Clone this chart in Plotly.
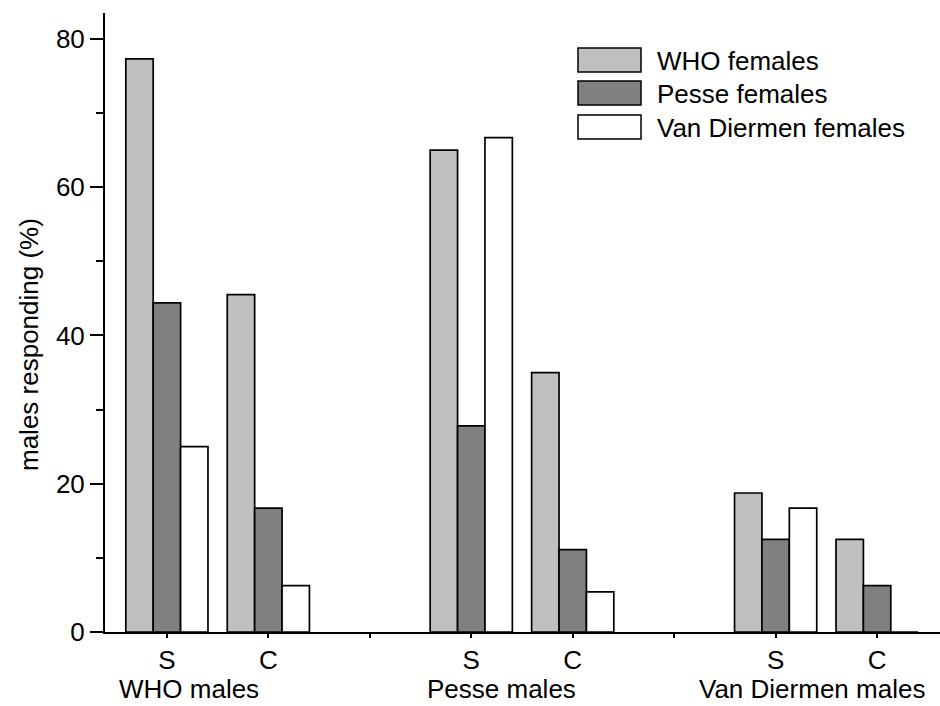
import plotly.graph_objects as go

# ---- data ----
positions = [0, 1, 3, 4, 6, 7]
tick_vals = [0, 1, 2, 3, 4, 5, 6, 7]
tick_text = ["S", "C", "", "S", "C", "", "S", "C"]
group_labels = ["WHO males", "Pesse males", "Van Diermen males"]
group_label_x = [0.22, 3.30, 6.36]
series_names = ["WHO females", "Pesse females", "Van Diermen females"]
who_females = [77.3, 45.5, 65.0, 35.0, 18.75, 12.5]
pesse_females = [44.4, 16.7, 27.8, 11.1, 12.5, 6.25]
vandiermen_females = [25.0, 6.25, 66.7, 5.4, 16.7, 0]
series_values = [who_females, pesse_females, vandiermen_females]
series_colors = ["#c0c0c0", "#808080", "#ffffff"]
y_title = "males responding (%)"

FONT = "Liberation Sans, Arial, sans-serif"
FS = 26
W, H = 940, 706
ML, MR, MT, MB = 105, 0, 13, 74
PW, PH = W - ML - MR, H - MT - MB


def px_x(p):
    return (p - ML) / PW


def px_y(p):
    return (H - MB - p) / PH


fig = go.Figure()
for name, vals, col in zip(series_names, series_values, series_colors):
    fig.add_trace(go.Bar(
        x=positions, y=vals, name=name,
        marker=dict(color=col, line=dict(color="black", width=1.7)),
        showlegend=False,
    ))

annotations = []
for lab, gx in zip(group_labels, group_label_x):
    annotations.append(dict(
        x=gx, xref="x", y=px_y(705), yref="paper", text=lab, showarrow=False,
        xanchor="center", yanchor="bottom", borderpad=0,
        font=dict(family=FONT, size=FS, color="black"),
    ))
annotations.append(dict(
    x=px_x(29), xref="paper", y=px_y(345), yref="paper", text=y_title, showarrow=False,
    textangle=-90, xanchor="center", yanchor="middle",
    font=dict(family=FONT, size=FS, color="black"),
))

# custom legend
shapes = []
row_centers = [60, 93, 127]
for name, col, rc in zip(series_names, series_colors, row_centers):
    shapes.append(dict(
        type="rect", xref="paper", yref="paper",
        x0=px_x(578), x1=px_x(641), y0=px_y(rc + 12), y1=px_y(rc - 12),
        fillcolor=col, line=dict(color="black", width=1.5),
    ))
    annotations.append(dict(
        x=px_x(655), xref="paper", y=px_y(rc + 1), yref="paper", text=name, showarrow=False,
        xanchor="left", yanchor="middle", font=dict(family=FONT, size=FS, color="black"),
    ))

fig.update_layout(
    width=W, height=H,
    margin=dict(l=ML, r=MR, t=MT, b=MB, pad=0),
    paper_bgcolor="white", plot_bgcolor="white",
    barmode="group", bargap=0.19, bargroupgap=0,
    font=dict(family=FONT, size=FS, color="black"),
    annotations=annotations, shapes=shapes,
    showlegend=False,
)
fig.update_xaxes(
    range=[-0.61, 7.62], tickmode="array", tickvals=tick_vals, ticktext=tick_text,
    ticks="outside", ticklen=4, tickwidth=2, tickcolor="black",
    showline=True, linecolor="black", linewidth=2, showgrid=False, zeroline=False,
    tickfont=dict(family=FONT, size=FS, color="black"), ticklabelstandoff=0,
)
fig.update_yaxes(
    range=[0, 83.5], tickvals=[0, 20, 40, 60, 80],
    ticks="outside", ticklen=13, tickwidth=2, tickcolor="black",
    minor=dict(tickvals=[10, 30, 50, 70], ticks="outside", ticklen=7, tickwidth=2, tickcolor="black"),
    showline=True, linecolor="black", linewidth=2, showgrid=False, zeroline=False,
    tickfont=dict(family=FONT, size=FS, color="black"),
)

fig.write_html("out.html")
